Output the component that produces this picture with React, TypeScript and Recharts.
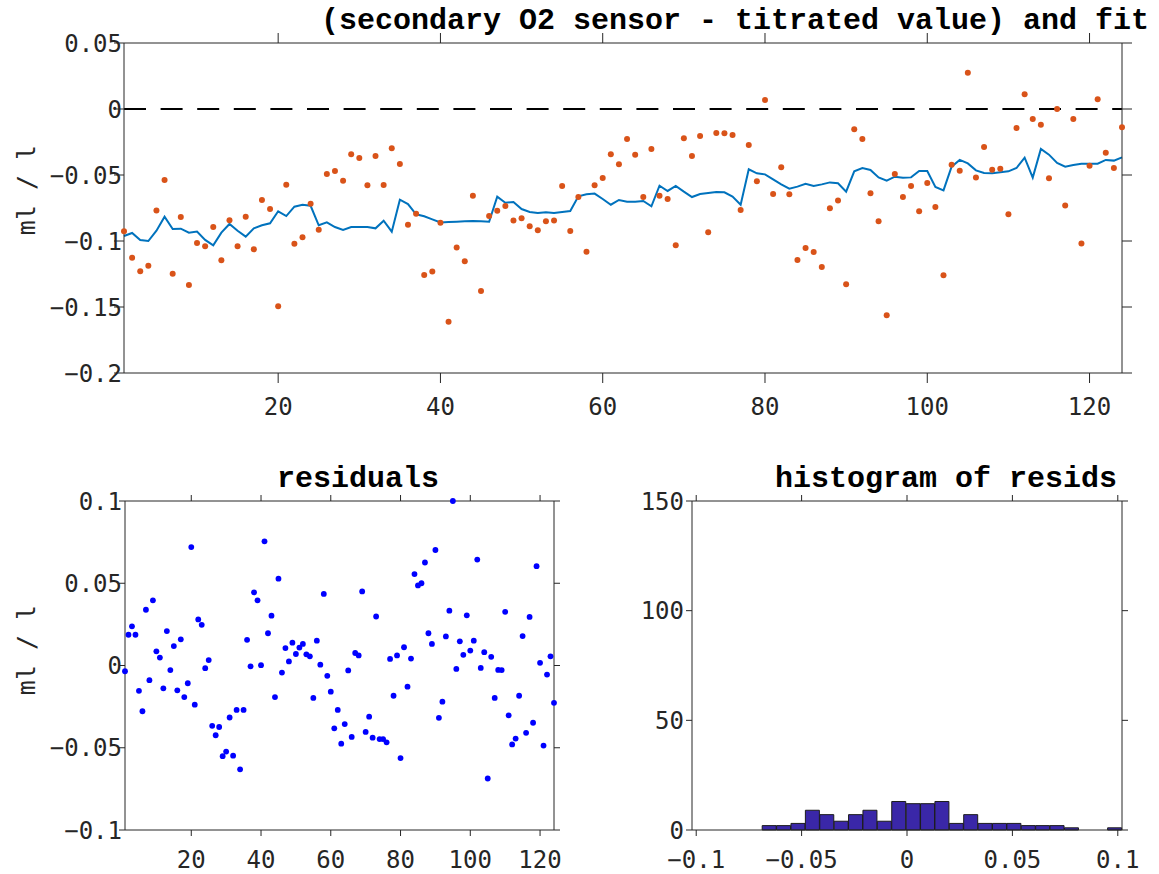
import React from "react";
import { ComposedChart, Line, Scatter, Bar, XAxis, YAxis, ReferenceLine } from "recharts";

// sensor minus titrated value, per sample (ml/l)
const OBS = [
  -0.0927, -0.1126, -0.1230, -0.1187, -0.0768, -0.0538, -0.1248, -0.0818, -0.1333, -0.1015,
  -0.1040, -0.0894, -0.1146, -0.0843, -0.1040, -0.0816, -0.1063, -0.0689, -0.0758, -0.1495,
  -0.0573, -0.1020, -0.0972, -0.0717, -0.0914, -0.0492, -0.0470, -0.0543, -0.0343, -0.0371,
  -0.0578, -0.0356, -0.0576, -0.0298, -0.0417, -0.0876, -0.0793, -0.1258, -0.1232, -0.0861,
  -0.1611, -0.1050, -0.1154, -0.0657, -0.1379, -0.0811, -0.0770, -0.0735, -0.0844, -0.0828,
  -0.0889, -0.0919, -0.0851, -0.0844, -0.0583, -0.0924, -0.0667, -0.1081, -0.0578, -0.0523,
  -0.0343, -0.0419, -0.0227, -0.0346, -0.0667, -0.0303, -0.0657, -0.0682, -0.1033, -0.0222,
  -0.0356, -0.0205, -0.0934, -0.0182, -0.0184, -0.0197, -0.0765, -0.0273, -0.0548, 0.0068,
  -0.0644, -0.0442, -0.0646, -0.1144, -0.1053, -0.1083, -0.1197, -0.0752, -0.0694, -0.1328,
  -0.0154, -0.0227, -0.0639, -0.0851, -0.1563, -0.0492, -0.0667, -0.0583, -0.0775, -0.0561,
  -0.0742, -0.1260, -0.0422, -0.0467, 0.0275, -0.0518, -0.0288, -0.0460, -0.0452, -0.0798,
  -0.0144, 0.0111, -0.0076, -0.0119, -0.0525, 0.0000, -0.0732, -0.0076, -0.1018, -0.0430,
  0.0073, -0.0331, -0.0447, -0.0139,
];

// fitted curve
const FIT = [
  -0.0962, -0.0939, -0.0992, -0.1000, -0.0922, -0.0816, -0.0909, -0.0907, -0.0937, -0.0929,
  -0.0992, -0.1033, -0.0937, -0.0871, -0.0922, -0.0967, -0.0904, -0.0881, -0.0866, -0.0775,
  -0.0811, -0.0740, -0.0725, -0.0733, -0.0881, -0.0859, -0.0894, -0.0917, -0.0894, -0.0894,
  -0.0894, -0.0904, -0.0846, -0.0929, -0.0687, -0.0720, -0.0798, -0.0813, -0.0836, -0.0859,
  -0.0856, -0.0854, -0.0851, -0.0849, -0.0851, -0.0854, -0.0664, -0.0710, -0.0705, -0.0758,
  -0.0780, -0.0788, -0.0783, -0.0788, -0.0780, -0.0773, -0.0662, -0.0646, -0.0641, -0.0682,
  -0.0725, -0.0689, -0.0702, -0.0702, -0.0697, -0.0737, -0.0581, -0.0621, -0.0583, -0.0626,
  -0.0667, -0.0644, -0.0636, -0.0629, -0.0631, -0.0664, -0.0725, -0.0457, -0.0487, -0.0495,
  -0.0533, -0.0571, -0.0604, -0.0588, -0.0566, -0.0583, -0.0571, -0.0556, -0.0563, -0.0626,
  -0.0472, -0.0447, -0.0462, -0.0518, -0.0543, -0.0513, -0.0520, -0.0518, -0.0470, -0.0470,
  -0.0591, -0.0616, -0.0437, -0.0386, -0.0412, -0.0465, -0.0485, -0.0487, -0.0480, -0.0472,
  -0.0447, -0.0369, -0.0520, -0.0303, -0.0346, -0.0409, -0.0437, -0.0424, -0.0414, -0.0414,
  -0.0414, -0.0386, -0.0391, -0.0366,
];

// residuals as plotted
const RESID = [
  -0.0035, 0.0187, 0.0238, 0.0187, -0.0154, -0.0278, 0.0339, -0.0089, 0.0396, 0.0086,
  0.0048, -0.0139, 0.0209, -0.0028, 0.0118, -0.0151, 0.0159, -0.0192, -0.0108, 0.0720,
  -0.0238, 0.0280, 0.0247, -0.0016, 0.0033, -0.0367, -0.0424, -0.0374, -0.0551, -0.0523,
  -0.0316, -0.0548, -0.0270, -0.0631, -0.0270, 0.0156, -0.0005, 0.0445, 0.0396, 0.0002,
  0.0755, 0.0196, 0.0303, -0.0192, 0.0528, -0.0043, 0.0106, 0.0025, 0.0139, 0.0070,
  0.0109, 0.0131, 0.0068, 0.0056, -0.0197, 0.0151, 0.0005, 0.0435, -0.0063, -0.0159,
  -0.0382, -0.0270, -0.0475, -0.0356, -0.0030, -0.0434, 0.0076, 0.0061, 0.0450, -0.0404,
  -0.0311, -0.0439, 0.0298, -0.0447, -0.0447, -0.0467, 0.0040, -0.0184, 0.0061, -0.0563,
  0.0111, -0.0129, 0.0042, 0.0556, 0.0487, 0.0500, 0.0626, 0.0196, 0.0131, 0.0702,
  -0.0318, -0.0220, 0.0177, 0.0333, 0.1000, -0.0021, 0.0147, 0.0065, 0.0305, 0.0091,
  0.0151, 0.0644, -0.0015, 0.0081, -0.0687, 0.0053, -0.0197, -0.0027, -0.0028, 0.0326,
  -0.0303, -0.0480, -0.0444, -0.0184, 0.0179, -0.0409, 0.0295, -0.0348, 0.0604, 0.0016,
  -0.0487, -0.0055, 0.0056, -0.0227,
];

// histogram: 25 bins
const HIST_CENTERS = [
  -0.06529, -0.05846, -0.05163, -0.04480, -0.03797, -0.03115, -0.02432, -0.01749, -0.01066, -0.00383,
  0.00300, 0.00983, 0.01665, 0.02348, 0.03031, 0.03714, 0.04397, 0.05080, 0.05762, 0.06445,
  0.07128, 0.07811, 0.08494, 0.09177, 0.09859,
];
const HIST_COUNTS = [2, 2, 3, 9, 7, 4, 7, 9, 4, 13, 12, 12, 13, 3, 7, 3, 3, 3, 2, 2, 2, 1, 0, 0, 1];

const SAMPLE_TICKS = [20, 40, 60, 80, 100, 120];
const FIT_Y_TICKS = [-0.2, -0.15, -0.1, -0.05, 0, 0.05];
const RESID_Y_TICKS = [-0.1, -0.05, 0, 0.05, 0.1];
const HIST_X_TICKS = [-0.1, -0.05, 0, 0.05, 0.1];
const HIST_Y_TICKS = [0, 50, 100, 150];

const AX = "#262626";
const MONO = '"DejaVu Sans Mono", monospace';
const TITLE_FONT = '"Liberation Mono", "Courier New", monospace';

const sampleRows = OBS.map((v, k) => ({ i: k + 1, obs: v, fit: FIT[k], res: RESID[k] }));
const histRows = HIST_CENTERS.map((c, k) => ({ c, n: HIST_COUNTS[k] }));

function fmt(v: number) {
  if (v === 0) return "0";
  return (v < 0 ? "\u2212" : "") + String(Math.abs(v));
}

function yTick(dx: number) {
  return (p: any) => (
    <text x={p.x + dx} y={p.y} dy="0.36em" textAnchor="end" fontFamily={MONO} fontSize={24} fill={AX}>
      {fmt(p.payload.value)}
    </text>
  );
}

function xTick(dy: number) {
  return (p: any) => (
    <text x={p.x} y={p.y + dy} textAnchor="middle" fontFamily={MONO} fontSize={24} fill={AX}>
      {fmt(p.payload.value)}
    </text>
  );
}

// mirrored axes: keep the tick marks, no label
const noLabel = () => <g />;

function dot(color: string, r: number) {
  return (p: any) => <circle cx={p.cx} cy={p.cy} r={r} fill={color} />;
}

const W = 1159;
const H = 874;

function FitPanel() {
  return (
    <div style={{ position: "absolute", left: 0, top: 0 }}>
      <ComposedChart width={W} height={440} data={sampleRows} margin={{ top: 42, right: 36, bottom: 66, left: 123 }}>
        <XAxis xAxisId="b" dataKey="i" type="number" domain={[1, 124]} ticks={SAMPLE_TICKS} interval={0}
          height={1} tickSize={10} tickMargin={0} stroke={AX} tick={xTick(32)} />
        <XAxis xAxisId="t" orientation="top" dataKey="i" type="number" domain={[1, 124]} ticks={SAMPLE_TICKS}
          interval={0} height={1} tickSize={10} stroke={AX} tick={noLabel} allowDataOverflow />
        <YAxis yAxisId="l" type="number" domain={[-0.2, 0.05]} ticks={FIT_Y_TICKS} interval={0}
          width={1} tickSize={10} tickMargin={0} stroke={AX} tick={yTick(8)} />
        <YAxis yAxisId="r" orientation="right" type="number" domain={[-0.2, 0.05]} ticks={FIT_Y_TICKS}
          interval={0} width={1} tickSize={10} stroke={AX} tick={noLabel} allowDataOverflow />
        <ReferenceLine xAxisId="b" yAxisId="l" y={0} stroke="#000" strokeWidth={2} strokeDasharray="22 14.6" />
        <Line xAxisId="b" yAxisId="l" type="linear" dataKey="fit" stroke="#0072BD" strokeWidth={2}
          dot={false} isAnimationActive={false} />
        <Scatter xAxisId="b" yAxisId="l" dataKey="obs" shape={dot("#D95319", 3)} isAnimationActive={false} />
      </ComposedChart>
    </div>
  );
}

function ResidPanel() {
  return (
    <div style={{ position: "absolute", left: 0, top: 0 }}>
      <ComposedChart width={W} height={H} data={sampleRows} margin={{ top: 500, right: 604, bottom: 43, left: 124 }}>
        <XAxis xAxisId="b" dataKey="i" type="number" domain={[1, 124]} ticks={SAMPLE_TICKS} interval={0}
          height={1} tickSize={6} tickMargin={0} stroke={AX} tick={xTick(32)} />
        <XAxis xAxisId="t" orientation="top" dataKey="i" type="number" domain={[1, 124]} ticks={SAMPLE_TICKS}
          interval={0} height={1} tickSize={6} stroke={AX} tick={noLabel} allowDataOverflow />
        <YAxis yAxisId="l" type="number" domain={[-0.1, 0.1]} ticks={RESID_Y_TICKS} interval={0}
          width={1} tickSize={6} tickMargin={0} stroke={AX} tick={yTick(3)} />
        <YAxis yAxisId="r" orientation="right" type="number" domain={[-0.1, 0.1]} ticks={RESID_Y_TICKS}
          interval={0} width={1} tickSize={6} stroke={AX} tick={noLabel} allowDataOverflow />
        <Scatter xAxisId="b" yAxisId="l" dataKey="res" shape={dot("#0000FF", 2.9)} isAnimationActive={false} />
      </ComposedChart>
    </div>
  );
}

function HistPanel() {
  return (
    <div style={{ position: "absolute", left: 0, top: 0 }}>
      <ComposedChart width={W} height={H} data={histRows} barCategoryGap={0} barGap={0}
        margin={{ top: 500, right: 36, bottom: 43, left: 691 }}>
        <XAxis xAxisId="b" dataKey="c" type="number" domain={[-0.102, 0.102]} ticks={HIST_X_TICKS} interval={0}
          height={1} tickSize={6} tickMargin={0} stroke={AX} tick={xTick(32)} />
        <XAxis xAxisId="t" orientation="top" dataKey="c" type="number" domain={[-0.102, 0.102]}
          ticks={HIST_X_TICKS} interval={0} height={1} tickSize={6} stroke={AX} tick={noLabel} allowDataOverflow />
        <YAxis yAxisId="l" type="number" domain={[0, 150]} ticks={HIST_Y_TICKS} interval={0}
          width={1} tickSize={6} tickMargin={0} stroke={AX} tick={yTick(-2)} />
        <YAxis yAxisId="r" orientation="right" type="number" domain={[0, 150]} ticks={HIST_Y_TICKS}
          interval={0} width={1} tickSize={6} stroke={AX} tick={noLabel} allowDataOverflow />
        <Bar xAxisId="b" yAxisId="l" dataKey="n" fill="#3A27A8" stroke="#1c1c1c" strokeWidth={1}
          isAnimationActive={false} />
      </ComposedChart>
    </div>
  );
}

function Labels() {
  const title = { fontFamily: TITLE_FONT, fontSize: 30, fontWeight: 700, fill: "#000", textAnchor: "middle" as const };
  const ylab = { fontFamily: MONO, fontSize: 25, fill: AX, textAnchor: "middle" as const };
  return (
    <svg width={W} height={H} style={{ position: "absolute", left: 0, top: 0, pointerEvents: "none" }}>
      <text x={735} y={29} {...title}>(secondary O2 sensor - titrated value) and fit</text>
      <text x={358} y={487} {...title}>residuals</text>
      <text x={946} y={487} {...title}>histogram of resids</text>
      <text transform="translate(35,190) rotate(-90)" {...ylab}>ml / l</text>
      <text transform="translate(35,650) rotate(-90)" {...ylab}>ml / l</text>
    </svg>
  );
}

export default function App() {
  return (
    <div style={{ position: "absolute", left: 0, top: 0, width: W, height: H, background: "#fff" }}>
      <FitPanel />
      <ResidPanel />
      <HistPanel />
      <Labels />
    </div>
  );
}
